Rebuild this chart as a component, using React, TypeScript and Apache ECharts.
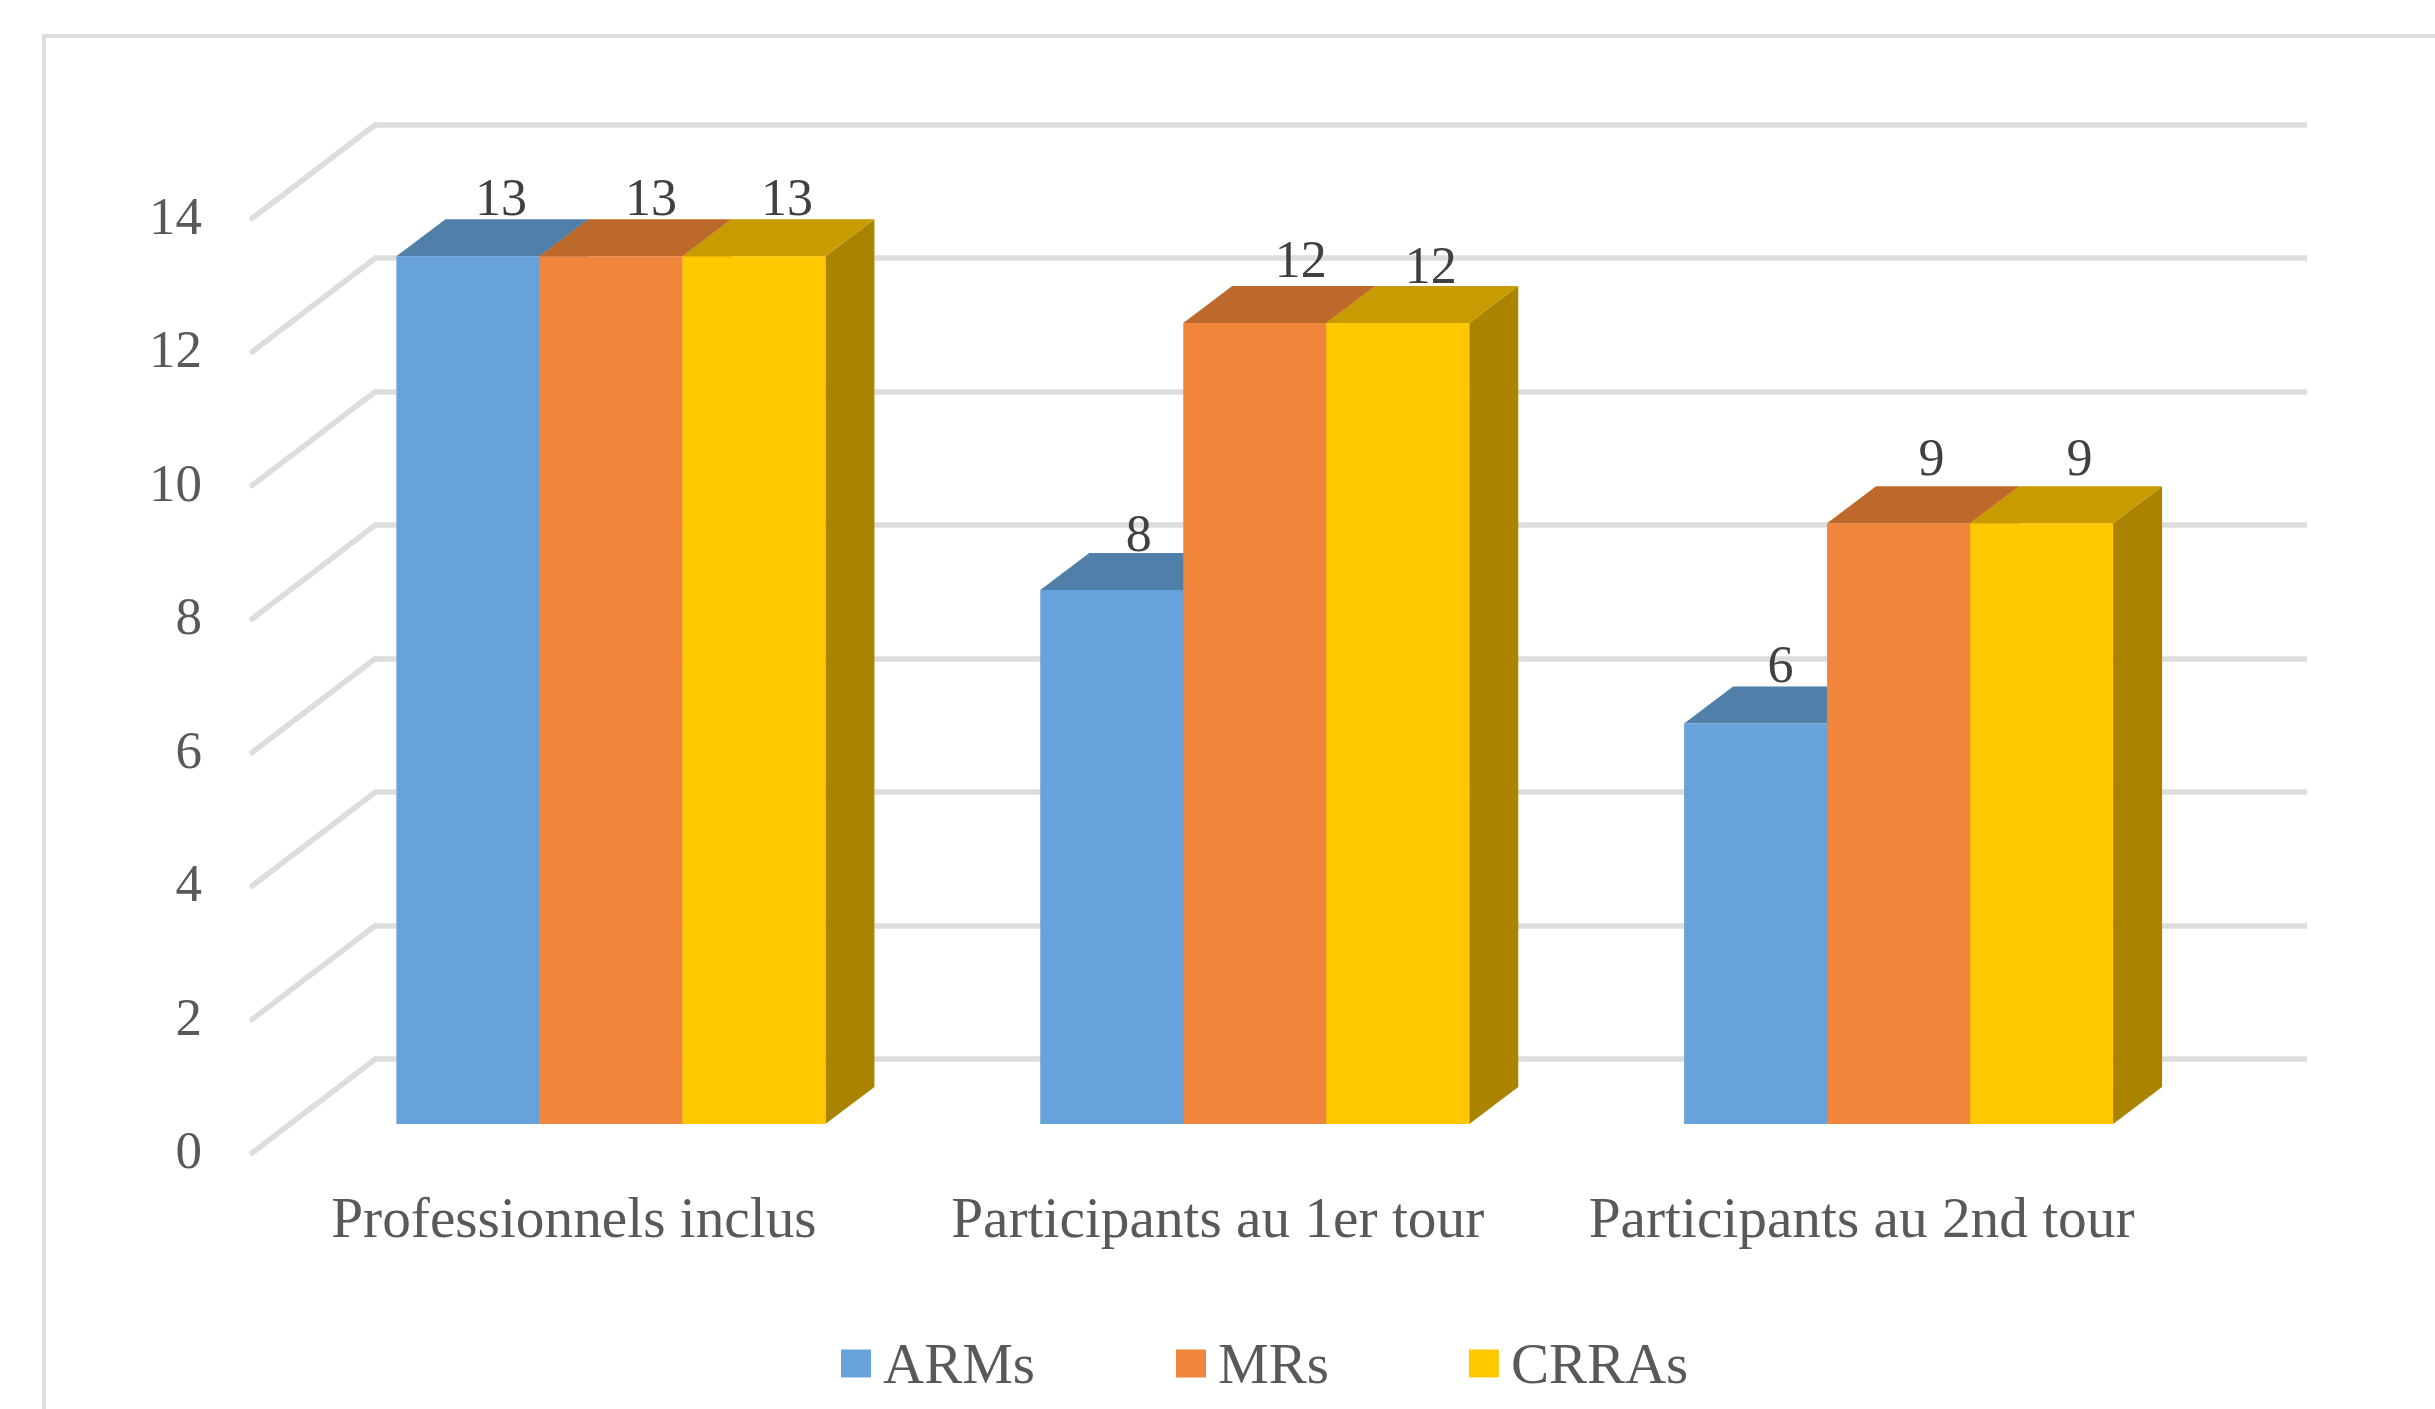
import React, { useEffect, useRef } from "react";
import * as echarts from "echarts";

const categories = ["Professionnels inclus", "Participants au 1er tour", "Participants au 2nd tour"];
const seriesNames = ["ARMs", "MRs", "CRRAs"];
const armsValues = [13, 8, 6];
const mrsValues = [13, 12, 9];
const crrasValues = [13, 12, 9];
const yTicks = [0, 2, 4, 6, 8, 10, 12, 14];

const FONT = '"Liberation Serif", serif';
const TEXT = "#595959";
const GRIDLINE = "#dddddd";
const FRONT = ["#67a3da", "#f1853b", "#ffc800"];
const TOP = ["#5080a9", "#bd692b", "#c89b00"];
const SIDE = ["#4f7ba3", "#b5642a", "#aa8400"];
// hand-placed data labels in the reference: offset from the top-back centre of each bar
const LABEL_DX = [
  [-16, -9, -16],
  [-22, -3, -16],
  [-24, -16, -11],
];
const LABEL_DY = [
  [-22, -22, -22],
  [-20, -27, -21],
  [-22, -29, -29],
];

const WALL = { left: 375.5, top: 124.5, width: 1931.5, height: 934.5 };
const FRONT_EDGE = { dx: -123.5, dy: 94 };
const LABEL_GRID_LIFT = 3;
const BAR = { width: 143, dx: -86.5, dy: 65, depthX: 49, depthY: -37 };

function makeBarRenderer(seriesIndex: number) {
  return (params: any, api: any) => {
    const catIndex = api.value(0);
    const value = api.value(1);
    const top = api.coord([catIndex, value]);
    const base = api.coord([catIndex, 0]);
    const x0 = top[0] + BAR.dx + (seriesIndex - 1.5) * BAR.width;
    const x1 = x0 + BAR.width;
    const yTop = top[1] + BAR.dy;
    const yBase = base[1] + BAR.dy;
    const { depthX: dX, depthY: dY } = BAR;
    return {
      type: "group",
      children: [
        { type: "polygon", shape: { points: [[x1, yTop], [x1 + dX, yTop + dY], [x1 + dX, yBase + dY], [x1, yBase]] }, style: { fill: SIDE[seriesIndex] } },
        { type: "polygon", shape: { points: [[x0, yTop], [x1, yTop], [x1 + dX, yTop + dY], [x0 + dX, yTop + dY]] }, style: { fill: TOP[seriesIndex] } },
        { type: "rect", shape: { x: x0, y: yTop, width: BAR.width, height: yBase - yTop }, style: { fill: FRONT[seriesIndex] } },
        {
          type: "text",
          x: x0 + BAR.width / 2 + dX + LABEL_DX[catIndex][seriesIndex],
          y: yTop + dY + LABEL_DY[catIndex][seriesIndex],
          style: { text: String(value), font: `52px ${FONT}`, fill: "#404040", align: "center", verticalAlign: "middle" },
        },
      ],
    };
  };
}

const renderDiagonal = (params: any, api: any) => {
  const p = api.coord([0, api.value(0)]);
  const x = params.coordSys.x;
  return {
    type: "line",
    shape: { x1: x, y1: p[1], x2: x + FRONT_EDGE.dx, y2: p[1] + FRONT_EDGE.dy },
    style: { stroke: GRIDLINE, lineWidth: 5.5, lineCap: "round" },
  };
};

const legendBase = {
  top: 1335,
  padding: 0,
  icon: "rect",
  itemWidth: 30,
  itemHeight: 28,
  itemGap: 136,
  textStyle: { fontFamily: FONT, fontSize: 57, color: TEXT, padding: [0, 0, 0, 7] },
  selectedMode: false,
};

export default function App() {
  const ref = useRef<HTMLDivElement>(null);
  useEffect(() => {
    const chart = echarts.init(ref.current!, undefined, { renderer: "svg" });
    const valueSets = [armsValues, mrsValues, crrasValues];
    chart.setOption({
      animation: false,
      backgroundColor: "#ffffff",
      graphic: [
        { type: "line", z: 0, shape: { x1: 42, y1: 36, x2: 2435, y2: 36 }, style: { stroke: GRIDLINE, lineWidth: 4 } },
        { type: "line", z: 0, shape: { x1: 44, y1: 34, x2: 44, y2: 1409 }, style: { stroke: GRIDLINE, lineWidth: 4 } },
      ],
      grid: [
        { ...WALL },
        { left: WALL.left + FRONT_EDGE.dx, top: WALL.top + FRONT_EDGE.dy - LABEL_GRID_LIFT, width: WALL.width, height: WALL.height },
      ],
      legend: [
        { ...legendBase, data: seriesNames.slice(0, 1), left: 841 },
        { ...legendBase, data: seriesNames.slice(1), left: 1176, itemGap: 140 },
      ],
      xAxis: [
        { type: "category", gridIndex: 0, data: categories, axisLine: { show: false }, axisTick: { show: false }, axisLabel: { show: false } },
        {
          type: "category",
          gridIndex: 1,
          data: categories,
          axisLine: { show: false },
          axisTick: { show: false },
          axisLabel: { fontFamily: FONT, fontSize: 57.3, color: TEXT, margin: 36 + LABEL_GRID_LIFT, interval: 0 },
        },
      ],
      yAxis: [
        {
          type: "value",
          gridIndex: 0,
          min: 0,
          max: 14,
          interval: 2,
          axisLine: { show: false },
          axisTick: { show: false },
          axisLabel: { show: false },
          splitLine: { show: true, lineStyle: { color: GRIDLINE, width: 5.5 } },
        },
        {
          type: "value",
          gridIndex: 1,
          min: 0,
          max: 14,
          interval: 2,
          axisLine: { show: false },
          axisTick: { show: false },
          splitLine: { show: false },
          axisLabel: { fontFamily: FONT, fontSize: 53, color: TEXT, margin: 50 },
        },
      ],
      series: [
        {
          type: "custom",
          name: "diagonals",
          xAxisIndex: 0,
          yAxisIndex: 0,
          z: 1,
          silent: true,
          renderItem: renderDiagonal,
          encode: { y: 0 },
          data: yTicks.map((t) => [t]),
        },
        ...seriesNames.map((name, s) => ({
          type: "custom",
          name,
          xAxisIndex: 0,
          yAxisIndex: 0,
          z: 3 + s,
          silent: true,
          itemStyle: { color: FRONT[s] },
          renderItem: makeBarRenderer(s),
          encode: { x: 0, y: 1 },
          data: valueSets[s].map((v, i) => [i, v]),
        })),
      ],
    });
    return () => chart.dispose();
  }, []);
  return <div ref={ref} style={{ position: "absolute", left: 0, top: 0, width: 2435, height: 1409 }} />;
}
